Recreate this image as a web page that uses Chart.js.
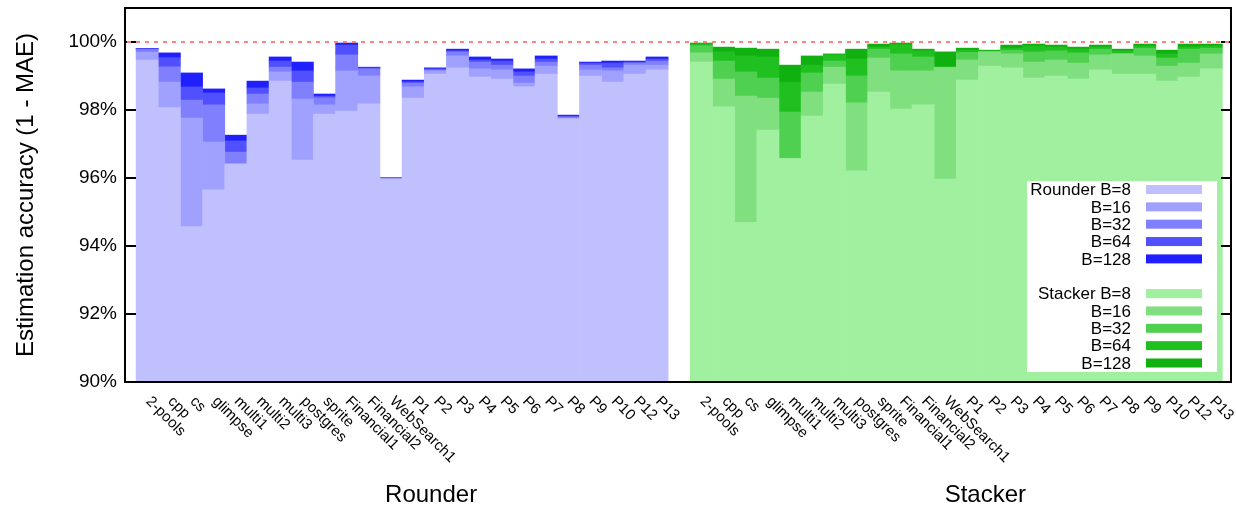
<!DOCTYPE html>
<html>
<head>
<meta charset="utf-8">
<script src="https://cdn.jsdelivr.net/npm/chart.js@4.4.1/dist/chart.umd.min.js"></script>
<style>
  html, body { margin: 0; padding: 0; background: #fff; }
</style>
</head>
<body>
<canvas id="chart" width="1236" height="506"></canvas>
<script>
// benchmark traces, same order for both groups
const benchmarks = ['2-pools', 'cpp', 'cs', 'glimpse', 'multi1', 'multi2', 'multi3', 'postgres',
  'sprite', 'Financial1', 'Financial2', 'WebSearch1', 'P1', 'P2', 'P3', 'P4', 'P5', 'P6',
  'P7', 'P8', 'P9', 'P10', 'P12', 'P13'];
const groupNames = ['Rounder', 'Stacker'];
const bufferSizes = [8, 16, 32, 64, 128];
const yTicks = [90, 92, 94, 96, 98, 100];

// accuracy (%) per buffer size, Rounder
const rounderB8 = [99.47, 98.07, 94.57, 95.65, 96.41, 97.88, 98.85, 96.53, 97.88, 97.97, 98.18, 95.97,
  98.35, 99.06, 99.24, 98.97, 98.91, 98.68, 99.06, 97.74, 99.00, 98.82, 99.06, 99.18];
const rounderB16 = [99.70, 98.82, 97.76, 97.06, 96.42, 98.18, 99.12, 98.32, 98.15, 99.15, 99.00, 95.98,
  98.68, 99.15, 99.59, 99.21, 99.18, 98.79, 99.29, 97.76, 99.18, 99.15, 99.32, 99.32];
const rounderB32 = [99.78, 99.27, 98.29, 98.15, 96.76, 98.47, 99.26, 98.82, 98.36, 99.62, 99.21, 95.99,
  98.79, 99.18, 99.71, 99.41, 99.32, 99.00, 99.41, 97.79, 99.32, 99.24, 99.38, 99.44];
const rounderB64 = [99.80, 99.54, 98.68, 98.50, 97.09, 98.65, 99.44, 99.15, 98.41, 99.91, 99.24, 96.00,
  98.83, 99.21, 99.74, 99.47, 99.44, 99.12, 99.50, 97.82, 99.38, 99.38, 99.41, 99.50];
const rounderB128 = [99.81, 99.68, 99.09, 98.62, 97.26, 98.85, 99.56, 99.41, 98.47, 99.97, 99.26, 96.01,
  98.88, 99.24, 99.79, 99.56, 99.50, 99.21, 99.59, 97.85, 99.41, 99.44, 99.44, 99.56];

// accuracy (%) per buffer size, Stacker
const stackerB8 = [99.41, 98.09, 94.69, 97.41, 96.57, 97.82, 98.76, 96.21, 98.53, 98.03, 98.15, 95.97,
  98.88, 99.29, 99.24, 98.94, 99.00, 98.91, 99.18, 99.06, 99.06, 98.85, 98.97, 99.21];
const stackerB16 = [99.68, 98.91, 98.41, 98.35, 96.58, 98.53, 99.26, 98.21, 99.53, 99.15, 99.15, 99.25,
  99.47, 99.71, 99.65, 99.41, 99.47, 99.38, 99.62, 99.65, 99.59, 99.29, 99.38, 99.65];
const stackerB32 = [99.89, 99.44, 99.12, 98.94, 97.94, 99.09, 99.44, 99.00, 99.79, 99.65, 99.56, 99.26,
  99.69, 99.72, 99.76, 99.71, 99.74, 99.68, 99.79, 99.66, 99.82, 99.53, 99.79, 99.82];
const stackerB64 = [99.94, 99.71, 99.59, 99.56, 98.82, 99.32, 99.62, 99.50, 99.85, 99.92, 99.74, 99.27,
  99.76, 99.74, 99.82, 99.88, 99.85, 99.79, 99.85, 99.74, 99.88, 99.65, 99.85, 99.88];
const stackerB128 = [99.97, 99.85, 99.82, 99.79, 99.32, 99.59, 99.65, 99.79, 99.94, 99.97, 99.79, 99.71,
  99.82, 99.76, 99.91, 99.94, 99.91, 99.85, 99.91, 99.79, 99.94, 99.76, 99.94, 99.94];

const rounderColors = ['#c0c0ff', '#a0a0ff', '#8080ff', '#5050ff', '#2020ff'];
const stackerColors = ['#a0f0a0', '#80e080', '#50d050', '#20c020', '#10b010'];

const FONT = "'Liberation Sans', Arial, Helvetica, sans-serif";
Chart.defaults.font.family = FONT;
Chart.defaults.color = '#000';

const groups = [
  { name: groupNames[0], offset: 0, series: [rounderB8, rounderB16, rounderB32, rounderB64, rounderB128], colors: rounderColors },
  { name: groupNames[1], offset: benchmarks.length + 1, series: [stackerB8, stackerB16, stackerB32, stackerB64, stackerB128], colors: stackerColors },
];

// each buffer size is a floating bar from the previous (smaller) size up to its own value
const datasets = [];
groups.forEach(g => {
  g.series.forEach((vals, k) => {
    datasets.push({
      label: (k === 0 ? g.name + ' ' : '') + 'B=' + bufferSizes[k],
      data: vals.map((v, i) => ({ x: g.offset + i, y: [k === 0 ? 90 : g.series[k - 1][i], v] })),
      backgroundColor: g.colors[k],
      borderWidth: 0,
      grouped: false,
      barPercentage: 1,
      categoryPercentage: 1,
    });
  });
});

const decor = {
  id: 'decor',
  afterDatasetsDraw(chart) {
    const { ctx, chartArea: a, scales: { x, y } } = chart;
    ctx.save();

    // frame + inward ticks
    ctx.strokeStyle = '#000';
    ctx.lineWidth = 2;
    ctx.beginPath();
    yTicks.forEach(t => {
      const py = Math.round(y.getPixelForValue(t));
      ctx.moveTo(a.left, py); ctx.lineTo(a.left + 11, py);
      ctx.moveTo(a.right, py); ctx.lineTo(a.right - 10, py);
    });
    ctx.stroke();
    ctx.strokeRect(a.left, a.top, a.right - a.left, a.bottom - a.top);

    // 100% reference
    const p100 = y.getPixelForValue(100);
    ctx.strokeStyle = '#ff8080';
    ctx.setLineDash([4, 5]);
    ctx.beginPath();
    ctx.moveTo(a.left + 2, p100); ctx.lineTo(a.right - 2, p100);
    ctx.stroke();
    ctx.setLineDash([]);

    // rotated benchmark labels
    ctx.fillStyle = '#000';
    ctx.font = '15px ' + FONT;
    ctx.textAlign = 'left';
    ctx.textBaseline = 'alphabetic';
    groups.forEach(g => {
      benchmarks.forEach((name, i) => {
        const px = x.getPixelForValue(g.offset + i);
        ctx.save();
        ctx.translate(px - 2, a.bottom + 20);
        ctx.rotate(Math.PI / 4);
        ctx.fillText(name, 0, 0);
        ctx.restore();
      });
      // group name
      ctx.font = '24px ' + FONT;
      ctx.textAlign = 'center';
      const mid = x.getPixelForValue(g.offset + (benchmarks.length - 1) / 2);
      ctx.fillText(g.name, mid + 29, 502);
      ctx.font = '15px ' + FONT;
      ctx.textAlign = 'left';
    });

    // legend box
    const lx = a.right - 204, ly = a.bottom - 201;
    ctx.fillStyle = '#fff';
    ctx.fillRect(lx, ly, 190, 191);
    ctx.font = '17px ' + FONT;
    ctx.textAlign = 'right';
    ctx.textBaseline = 'middle';
    let row = 0;
    groups.forEach((g, gi) => {
      if (gi > 0) row++;
      bufferSizes.forEach((b, k) => {
        const ry = ly + 8.5 + row * 17.35;
        ctx.fillStyle = '#000';
        ctx.fillText((k === 0 ? g.name + ' ' : '') + 'B=' + b, lx + 104, ry + 1);
        ctx.fillStyle = g.colors[k];
        ctx.fillRect(lx + 119, ry - 4.5, 56, 9);
        row++;
      });
    });
    ctx.restore();
  }
};

new Chart(document.getElementById('chart'), {
  type: 'bar',
  data: { datasets },
  options: {
    responsive: false,
    animation: false,
    devicePixelRatio: 1,
    layout: { padding: { left: 0, top: 8, right: 5, bottom: 124 } },
    plugins: { legend: { display: false }, tooltip: { enabled: false } },
    scales: {
      x: {
        type: 'linear',
        min: -1,
        max: 48.89,
        offset: false,
        display: false,
      },
      y: {
        min: 90,
        max: 101,
        grid: { display: false, drawTicks: false },
        border: { display: false },
        ticks: {
          stepSize: 2,
          includeBounds: false,
          padding: 8,
          font: { size: 19 },
          color: '#000',
          callback: v => v + '%',
        },
        title: {
          display: true,
          text: 'Estimation accuracy (1 - MAE)',
          font: { size: 24 },
          color: '#000',
          padding: { top: 12, bottom: 0 },
        },
        afterFit(s) { s.width = 125; s.paddingTop = 0; s.paddingBottom = 0; },
      },
    },
  },
  plugins: [decor],
});
</script>
</body>
</html>
